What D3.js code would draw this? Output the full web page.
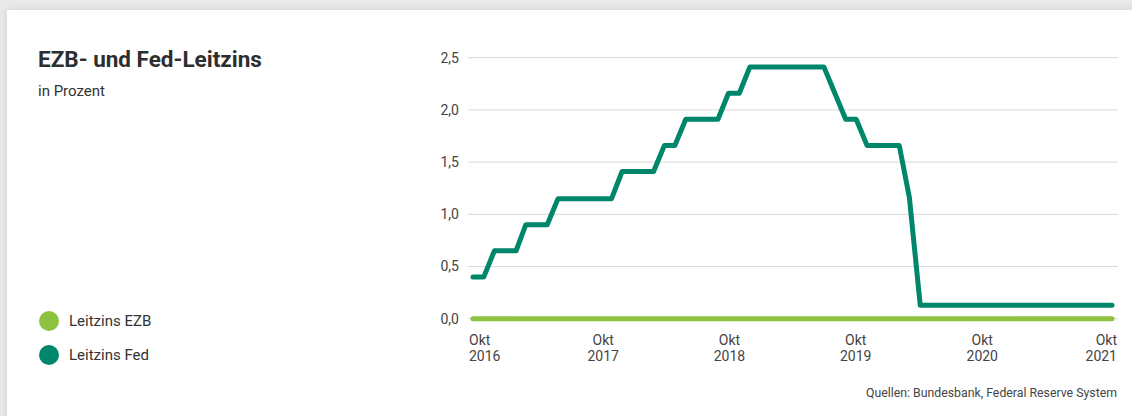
<!DOCTYPE html>
<html>
<head>
<meta charset="utf-8">
<script src="https://cdn.jsdelivr.net/npm/d3@7"></script>
<style>
  html, body { margin: 0; padding: 0; }
  body { width: 1132px; height: 416px; background: #e9e9e9; position: relative; overflow: hidden; font-family: Roboto, "Noto Sans", sans-serif; }
  #card { position: absolute; left: 7px; top: 10px; width: 1140px; height: 420px; background: #fff; box-shadow: 0 0 8px rgba(0,0,0,0.10); }
  svg { position: absolute; left: 0; top: 0; }
</style>
</head>
<body>
<div id="card"></div>
<svg id="chart" width="1132" height="416"></svg>
<script>
// ---- data ----
const months = [
  "2016-10","2016-11","2016-12","2017-01","2017-02","2017-03","2017-04","2017-05","2017-06","2017-07",
  "2017-08","2017-09","2017-10","2017-11","2017-12","2018-01","2018-02","2018-03","2018-04","2018-05",
  "2018-06","2018-07","2018-08","2018-09","2018-10","2018-11","2018-12","2019-01","2019-02","2019-03",
  "2019-04","2019-05","2019-06","2019-07","2019-08","2019-09","2019-10","2019-11","2019-12","2020-01",
  "2020-02","2020-03","2020-04","2020-05","2020-06","2020-07","2020-08","2020-09","2020-10","2020-11",
  "2020-12","2021-01","2021-02","2021-03","2021-04","2021-05","2021-06","2021-07","2021-08","2021-09",
  "2021-10"
];
const fedRate = [
  0.40,0.40,0.65,0.65,0.65,0.90,0.90,0.90,1.15,1.15,
  1.15,1.15,1.15,1.15,1.41,1.41,1.41,1.41,1.66,1.66,
  1.91,1.91,1.91,1.91,2.16,2.16,2.41,2.41,2.41,2.41,
  2.41,2.41,2.41,2.41,2.16,1.91,1.91,1.66,1.66,1.66,
  1.66,1.16,0.13,0.13,0.13,0.13,0.13,0.13,0.13,0.13,
  0.13,0.13,0.13,0.13,0.13,0.13,0.13,0.13,0.13,0.13,
  0.13
];
const ecbRate = [
  0,0,0,0,0,0,0,0,0,0,
  0,0,0,0,0,0,0,0,0,0,
  0,0,0,0,0,0,0,0,0,0,
  0,0,0,0,0,0,0,0,0,0,
  0,0,0,0,0,0,0,0,0,0,
  0,0,0,0,0,0,0,0,0,0,
  0
];
const yTicks = [0, 0.5, 1.0, 1.5, 2.0, 2.5];
const xTickDates = ["2016-10","2017-10","2018-10","2019-10","2020-10","2021-10"];
const xTickLabels = [["Okt","2016"],["Okt","2017"],["Okt","2018"],["Okt","2019"],["Okt","2020"],["Okt","2021"]];
const seriesNames = ["Leitzins EZB", "Leitzins Fed"];
const seriesColors = ["#8cc23f", "#00876b"];
const title = "EZB- und Fed-Leitzins";
const subtitle = "in Prozent";
const source = "Quellen: Bundesbank, Federal Reserve System";

// ---- chart ----
const svg = d3.select("#chart");
const parse = d3.timeParse("%Y-%m");
const fmt = d3.format(".1f");
const deFmt = v => fmt(v).replace(".", ",");

const x = d3.scaleTime()
  .domain([parse(months[0]), parse(months[months.length - 1])])
  .range([473, 1112]);
const y = d3.scaleLinear().domain([0, 2.5]).range([318.7, 57.7]);

const gridLeft = 468, gridRight = 1118;

// gridlines
svg.append("g").selectAll("line").data(yTicks).join("line")
  .attr("x1", gridLeft).attr("x2", gridRight)
  .attr("y1", d => y(d)).attr("y2", d => y(d))
  .attr("stroke", "#d9d9d9").attr("stroke-width", 1);

// y labels
svg.append("g").selectAll("text").data(yTicks).join("text")
  .attr("x", 459).attr("y", d => y(d)).attr("dy", "0.35em")
  .attr("text-anchor", "end")
  .attr("font-size", 14).attr("fill", "#444")
  .text(d => deFmt(d));

// x labels
const xl = svg.append("g").selectAll("text").data(xTickDates).join("text")
  .attr("x", (d, i) => {
    const px = x(parse(d));
    if (i === 0) return px - 4;
    if (i === xTickDates.length - 1) return px + 5;
    return px + (2 - i) * 1.5 + 1;
  })
  .attr("text-anchor", (d, i) => i === 0 ? "start" : (i === xTickDates.length - 1 ? "end" : "middle"))
  .attr("font-size", 14).attr("fill", "#444");
xl.each(function(d, i) {
  const t = d3.select(this);
  const px = t.attr("x");
  t.append("tspan").attr("x", px).attr("y", 345).text(xTickLabels[i][0]);
  t.append("tspan").attr("x", px).attr("y", 361).text(xTickLabels[i][1]);
});

// lines
const line = d3.line()
  .x((d, i) => x(parse(months[i])))
  .y(d => y(d));

const allSeries = [ecbRate, fedRate];
svg.append("g").selectAll("path").data(allSeries).join("path")
  .attr("d", d => line(d))
  .attr("fill", "none")
  .attr("stroke", (d, i) => seriesColors[i])
  .attr("stroke-width", 5)
  .attr("stroke-linejoin", "round")
  .attr("stroke-linecap", "round");

// title
svg.append("text").attr("x", 38).attr("y", 67)
  .attr("font-size", 22.5).attr("font-weight", 700).attr("fill", "#2e2e2e")
  .text(title);
svg.append("text").attr("x", 38).attr("y", 96)
  .attr("font-size", 15).attr("fill", "#333")
  .text(subtitle);

// legend
const leg = svg.append("g").selectAll("g").data(seriesNames).join("g")
  .attr("transform", (d, i) => `translate(49,${321 + i * 34})`);
leg.append("circle").attr("r", 10).attr("fill", (d, i) => seriesColors[i]);
leg.append("text").attr("x", 20).attr("dy", "0.35em")
  .attr("font-size", 15).attr("fill", "#333").text(d => d);

// source
svg.append("text").attr("x", 1117).attr("y", 397)
  .attr("text-anchor", "end").attr("font-size", 12.3).attr("fill", "#444")
  .text(source);
</script>
</body>
</html>
